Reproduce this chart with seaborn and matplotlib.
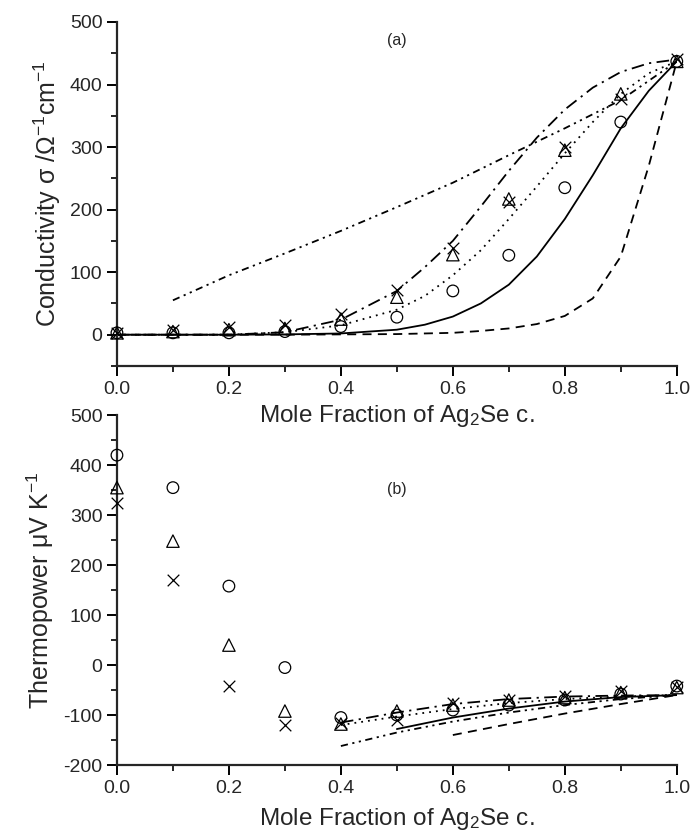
import numpy as np
import pandas as pd
import matplotlib
matplotlib.use("Agg")
import matplotlib.pyplot as plt
import seaborn as sns
from matplotlib.ticker import MultipleLocator

# ---------------- data ----------------
x_pts = [0.0, 0.1, 0.2, 0.3, 0.4, 0.5, 0.6, 0.7, 0.8, 0.9, 1.0]

# (a) conductivity
cond_circle = [3, 3, 3, 5, 13, 28, 70, 127, 235, 340, 437]
cond_triangle = [3, 5, 8, 10, 25, 60, 128, 217, 295, 385, 437]
cond_cross = [3, 7, 12, 15, 33, 72, 138, 212, 300, 377, 440]

cond_x_line = [0.0, 0.1, 0.2, 0.3, 0.4, 0.5, 0.55, 0.6, 0.65, 0.7, 0.75, 0.8, 0.85, 0.9, 0.95, 1.0]
cond_solid = [0, 0, 0, 0.5, 2, 8, 16, 29, 50, 80, 125, 185, 255, 330, 390, 437]
cond_dashed = [0, 0, 0, 0, 0.5, 1, 2, 3, 6, 10, 17, 30, 58, 125, 270, 437]
cond_dotted = [0, 0, 0, 4, 15, 40, 62, 95, 135, 185, 237, 290, 340, 385, 418, 437]
cond_dashdot = [0, 0, 0, 4, 24, 70, 108, 150, 205, 262, 315, 360, 395, 420, 434, 440]
cond_ddot_x = [0.1, 0.2, 0.3, 0.4, 0.5, 0.6, 0.7, 0.8, 0.9, 1.0]
cond_dashdotdot = [55, 95, 130, 166, 204, 243, 287, 330, 375, 437]

# (b) thermopower
tp_circle = [420, 355, 158, -5, -105, -100, -90, -80, -70, -58, -42]
tp_triangle = [355, 248, 40, -92, -118, -92, -80, -70, -65, -55, -45]
tp_cross = [325, 170, -42, -120, -115, -110, -75, -70, -62, -52, -44]

tp_dashdot_x = [0.4, 0.5, 0.6, 0.7, 0.8, 0.9, 1.0]
tp_dashdot = [-115, -95, -78, -68, -63, -61, -60]
tp_dotted_x = [0.4, 0.5, 0.6, 0.7, 0.8, 0.9, 1.0]
tp_dotted = [-120, -103, -88, -76, -68, -63, -60]
tp_solid_x = [0.5, 0.6, 0.7, 0.8, 0.9, 1.0]
tp_solid = [-128, -105, -87, -73, -64, -60]
tp_dashdotdot_x = [0.4, 0.5, 0.6, 0.7, 0.8, 0.9, 1.0]
tp_dashdotdot = [-162, -135, -113, -95, -80, -68, -60]
tp_dashed_x = [0.6, 0.7, 0.8, 0.9, 1.0]
tp_dashed = [-140, -118, -97, -78, -60]

# ---------------- style ----------------
sns.set_style("ticks")
FONT = ["Liberation Sans", "DejaVu Sans"]
plt.rcParams["font.family"] = FONT
plt.rcParams["mathtext.fontset"] = "custom"
plt.rcParams["mathtext.rm"] = "Liberation Sans"
plt.rcParams["mathtext.it"] = "Liberation Sans:italic"
plt.rcParams["axes.linewidth"] = 1.6
plt.rcParams["axes.unicode_minus"] = False

fig = plt.figure(figsize=(6.92, 8.35), dpi=100)
axA = fig.add_axes([0.169, 0.5617, 0.809, 0.412])
axB = fig.add_axes([0.169, 0.0838, 0.809, 0.419])

LS = {
    "solid": "-",
    "dashed": (0, (5, 3.5)),
    "dotted": (0, (1, 2.8)),
    "dashdot": (0, (7, 3, 1.2, 3)),
    "dashdotdot": (0, (4, 2.5, 1.2, 2.5, 1.2, 2.5)),
}


def draw_points(ax, xs, c, t, x):
    sns.scatterplot(x=xs, y=c, ax=ax, marker="o", s=70, facecolors="none",
                    edgecolor="black", linewidth=0.9, clip_on=False, zorder=5)
    sns.scatterplot(x=xs, y=t, ax=ax, marker="^", s=80, facecolors="none",
                    edgecolor="black", linewidth=0.9, clip_on=False, zorder=5)
    sns.scatterplot(x=xs, y=x, ax=ax, marker="x", s=70, color="black",
                    linewidth=0.9, clip_on=False, zorder=5)


def draw_line(ax, xs, ys, style):
    sns.lineplot(x=xs, y=ys, ax=ax, color="black", linewidth=1.3,
                 linestyle=LS[style], estimator=None, sort=False)


# ---- panel (a)
draw_line(axA, cond_x_line, cond_solid, "solid")
draw_line(axA, cond_x_line, cond_dashed, "dashed")
draw_line(axA, cond_x_line, cond_dotted, "dotted")
draw_line(axA, cond_x_line, cond_dashdot, "dashdot")
draw_line(axA, cond_ddot_x, cond_dashdotdot, "dashdotdot")
draw_points(axA, x_pts, cond_circle, cond_triangle, cond_cross)

axA.set_xlim(0, 1.0)
axA.set_ylim(-50, 500)
axA.set_ylabel(r"Conductivity σ /Ω$^{-1}$cm$^{-1}$", fontsize=18, labelpad=5)
axA.set_xlabel(r"Mole Fraction of Ag$_2$Se c.", fontsize=17.5, labelpad=4)
axA.text(0.5, 470, "(a)", fontsize=11.5, ha="center", va="center")

# ---- panel (b)
draw_line(axB, tp_solid_x, tp_solid, "solid")
draw_line(axB, tp_dashed_x, tp_dashed, "dashed")
draw_line(axB, tp_dotted_x, tp_dotted, "dotted")
draw_line(axB, tp_dashdot_x, tp_dashdot, "dashdot")
draw_line(axB, tp_dashdotdot_x, tp_dashdotdot, "dashdotdot")
draw_points(axB, x_pts, tp_circle, tp_triangle, tp_cross)

axB.set_xlim(0, 1.0)
axB.set_ylim(-200, 500)
axB.set_ylabel(r"Thermopower μV K$^{-1}$", fontsize=18, labelpad=5)
axB.set_xlabel(r"Mole Fraction of Ag$_2$Se c.", fontsize=17.5, labelpad=7)
axB.text(0.5, 352, "(b)", fontsize=11.5, ha="center", va="center")

for ax in (axA, axB):
    sns.despine(ax=ax)
    ax.xaxis.set_major_locator(MultipleLocator(0.2))
    ax.xaxis.set_minor_locator(MultipleLocator(0.1))
    ax.yaxis.set_major_locator(MultipleLocator(100))
    ax.yaxis.set_minor_locator(MultipleLocator(50))
    ax.xaxis.set_major_formatter(matplotlib.ticker.FormatStrFormatter("%.1f"))
    ax.tick_params(which="major", direction="out", length=7, width=1.4,
                   labelsize=14, color="black")
    ax.tick_params(which="minor", direction="out", length=4, width=1.2,
                   color="black")
    if ax.get_legend():
        ax.get_legend().remove()

# keep the upper panel's x label visible over the lower panel
axB.patch.set_visible(False)
axA.set_zorder(3)
axA.patch.set_visible(False)

fig.savefig("out.png", dpi=100, facecolor="white")
